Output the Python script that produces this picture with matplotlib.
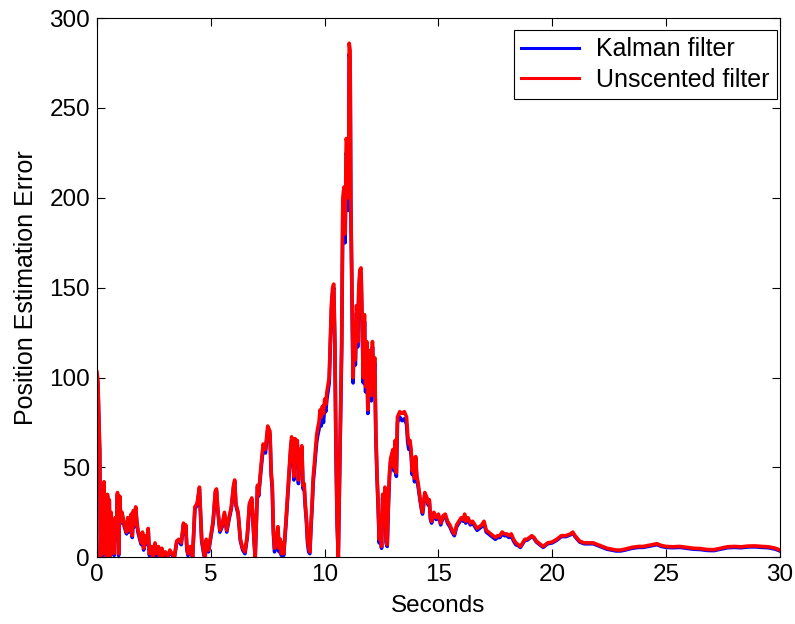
import matplotlib
matplotlib.use("Agg")
import matplotlib.pyplot as plt

plt.rcParams['font.family'] = ['Liberation Sans', 'DejaVu Sans']

# time (s) and position estimation error
t = [0.00, 0.04, 0.08, 0.12, 0.15, 0.18, 0.22, 0.25, 0.28, 0.31, 0.35, 0.38, 0.42, 0.46, 0.50,
     0.54, 0.58, 0.62, 0.66, 0.70, 0.75, 0.80, 0.85, 0.90, 0.95, 1.00, 1.05, 1.10, 1.20, 1.30,
     1.35, 1.40, 1.50, 1.55, 1.60, 1.65, 1.70, 1.75, 1.80, 1.90, 1.95, 2.00, 2.05, 2.10, 2.20,
     2.25, 2.30, 2.40, 2.45, 2.55, 2.60, 2.70, 2.75, 2.85, 2.90, 3.00, 3.10, 3.20, 3.30, 3.40,
     3.50, 3.60, 3.70, 3.80, 3.85, 3.90, 3.95, 4.00, 4.10, 4.20, 4.30, 4.40, 4.50, 4.55, 4.60,
     4.70, 4.75, 4.80, 4.90, 5.00, 5.10, 5.20, 5.25, 5.30, 5.40, 5.50, 5.60, 5.70, 5.80, 5.90,
     6.00, 6.05, 6.10, 6.20, 6.30, 6.40, 6.50, 6.60, 6.70, 6.80, 6.90, 6.95, 7.05, 7.10, 7.20,
     7.30, 7.40, 7.50, 7.60, 7.65, 7.70, 7.75, 7.80, 7.90, 7.95, 8.00, 8.05, 8.10, 8.15, 8.20,
     8.30, 8.40, 8.50, 8.55, 8.60, 8.65, 8.70, 8.75, 8.80, 8.85, 8.90, 8.95, 9.00, 9.05, 9.10,
     9.15, 9.20, 9.25, 9.30, 9.35, 9.40, 9.45, 9.50, 9.55, 9.60, 9.65, 9.70, 9.75, 9.80, 9.85,
     9.90, 9.95, 10.00, 10.05, 10.10, 10.20, 10.25, 10.30, 10.35, 10.40, 10.45, 10.50, 10.55, 10.60, 10.65,
     10.70, 10.75, 10.80, 10.85, 10.90, 10.95, 11.00, 11.05, 11.08, 11.12, 11.15, 11.20, 11.25, 11.30, 11.35,
     11.40, 11.45, 11.50, 11.55, 11.60, 11.65, 11.70, 11.75, 11.80, 11.85, 11.90, 11.95, 12.00, 12.05, 12.10,
     12.15, 12.20, 12.25, 12.30, 12.35, 12.40, 12.45, 12.50, 12.55, 12.60, 12.65, 12.70, 12.75, 12.80, 12.85,
     12.90, 13.00, 13.05, 13.10, 13.15, 13.20, 13.30, 13.40, 13.50, 13.60, 13.65, 13.70, 13.75, 13.80, 13.85,
     13.90, 13.95, 14.00, 14.05, 14.10, 14.20, 14.25, 14.30, 14.35, 14.40, 14.50, 14.55, 14.60, 14.65, 14.70,
     14.80, 14.90, 15.00, 15.10, 15.20, 15.30, 15.40, 15.50, 15.60, 15.70, 15.80, 15.90, 16.00, 16.10, 16.15,
     16.20, 16.30, 16.40, 16.50, 16.60, 16.70, 16.80, 16.90, 17.00, 17.10, 17.20, 17.30, 17.40, 17.50, 17.60,
     17.70, 17.80, 17.90, 18.00, 18.10, 18.20, 18.30, 18.40, 18.50, 18.60, 18.70, 18.80, 18.90, 19.00, 19.10,
     19.20, 19.30, 19.40, 19.50, 19.60, 19.70, 19.80, 20.00, 20.20, 20.40, 20.60, 20.80, 20.90, 21.00, 21.20,
     21.40, 21.60, 21.80, 22.00, 22.20, 22.40, 22.60, 22.80, 23.00, 23.20, 23.50, 23.80, 24.00, 24.20, 24.40,
     24.60, 24.80, 25.00, 25.30, 25.60, 25.90, 26.20, 26.50, 26.80, 27.10, 27.40, 27.70, 28.00, 28.30, 28.60,
     28.90, 29.20, 29.50, 29.80, 30.00]

unscented = [103, 98, 80, 60, 0, 20, 35, 2, 30, 42, 5, 28, 0, 35, 8,
             32, 0, 25, 15, 20, 2, 22, 15, 36, 2, 34, 20, 25, 18, 14,
             22, 15, 24, 12, 26, 18, 28, 20, 15, 10, 8, 14, 5, 12, 8,
             16, 2, 6, 0, 8, 2, 6, 0, 5, 1, 3, 0, 4, 2, 0,
             9, 10, 8, 19, 14, 18, 5, 2, 6, 0, 28, 30, 39, 25, 10,
             2, 0, 10, 4, 12, 20, 37, 38, 28, 15, 18, 25, 15, 22, 28,
             40, 43, 30, 25, 10, 5, 3, 12, 30, 33, 10, 0, 40, 35, 50,
             63, 60, 73, 70, 48, 40, 15, 5, 12, 17, 5, 10, 2, 8, 2,
             20, 40, 60, 67, 62, 45, 66, 58, 65, 43, 60, 55, 62, 40, 41,
             30, 22, 10, 5, 3, 18, 30, 45, 52, 60, 68, 72, 75, 82, 78,
             84, 80, 88, 85, 92, 100, 120, 141, 150, 152, 120, 60, 20, 0, 40,
             80, 120, 200, 206, 180, 233, 230, 200, 286, 282, 200, 150, 100, 130, 110,
             140, 120, 150, 160, 161, 130, 100, 135, 95, 120, 82, 115, 110, 90, 120,
             100, 111, 70, 47, 30, 10, 20, 6, 35, 25, 39, 10, 7, 30, 47,
             55, 60, 50, 65, 47, 78, 81, 80, 81, 78, 68, 63, 65, 60, 48,
             55, 44, 56, 45, 42, 32, 28, 25, 30, 36, 33, 30, 32, 22, 20,
             25, 22, 24, 19, 23, 24, 20, 18, 15, 13, 18, 20, 22, 21, 24,
             20, 22, 19, 20, 18, 16, 17, 18, 20, 15, 14, 13, 12, 11, 12,
             12, 14, 13, 13, 12, 13, 10, 8, 7, 6, 8, 10, 10, 11, 12,
             11, 9, 8, 7, 6, 7, 8, 8.5, 10, 12, 12, 13, 14, 12, 9,
             8, 8, 8, 7, 6, 5, 4.5, 4, 4, 4.5, 5.5, 6, 6, 6.5, 7,
             7.5, 6.5, 6, 5.8, 6, 5.5, 5, 4.8, 4.3, 4.2, 5, 5.8, 6, 5.8, 6.2,
             6.3, 6, 5.8, 5, 4]

kalman = [101, 96, 78, 58, 0, 19, 34, 1, 29, 41, 4, 27, 0, 34, 7,
          31, 0, 24, 14, 19, 1, 21, 14, 35, 1, 33, 19, 24, 17, 13,
          21, 14, 23, 11, 25, 17, 27, 19, 14, 9, 7, 13, 4, 11, 7,
          15, 1, 5, 0, 7, 1, 5, 0, 4, 0, 2, 0, 3, 1, 0,
          8, 9, 7, 18, 13, 17, 4, 1, 5, 0, 27, 29, 38, 24, 9,
          1, 0, 9, 3, 11, 19, 36, 37, 27, 14, 17, 24, 14, 21, 27,
          39, 42, 29, 24, 9, 4, 2, 11, 29, 32, 9, 0, 39, 34, 48,
          61, 58, 71, 68, 46, 38, 13, 3, 10, 15, 3, 8, 1, 6, 1,
          18, 38, 58, 65, 60, 43, 64, 56, 63, 41, 58, 53, 60, 38, 39,
          28, 20, 8, 3, 2, 16, 28, 42, 49, 57, 64, 68, 71, 77, 73,
          79, 75, 84, 81, 88, 97, 117, 138, 147, 150, 117, 57, 18, 0, 38,
          77, 117, 195, 198, 175, 225, 222, 193, 280, 276, 195, 146, 97, 126, 107,
          136, 117, 147, 157, 158, 127, 97, 131, 92, 117, 80, 112, 107, 87, 117,
          97, 108, 67, 45, 28, 8, 18, 5, 33, 23, 37, 8, 6, 28, 45,
          53, 58, 48, 62, 45, 75, 78, 76, 77, 74, 64, 60, 62, 57, 46,
          53, 42, 54, 43, 40, 31, 27, 24, 29, 35, 32, 29, 31, 21, 19,
          24, 21, 23, 18, 22, 23, 19, 17, 14, 12, 17, 19, 21, 20, 23,
          19, 21, 18, 19, 17, 15, 16, 17, 19, 14, 13, 12, 11, 10, 11,
          11, 13, 12, 12, 11, 12, 9, 7, 6.5, 5.5, 7.5, 9.5, 9.5, 10.5, 11.5,
          10.5, 8.5, 7.5, 6.5, 5.5, 6.5, 7.5, 8, 9.5, 11.5, 11.5, 12.5, 13.5, 11.5, 8.5,
          7.5, 7.5, 7.5, 6.5, 5.5, 4.5, 4, 3.5, 3.5, 4, 5, 5.5, 5.5, 6, 6.5,
          7, 6, 5.5, 5.3, 5.5, 5, 4.5, 4.3, 3.8, 3.7, 4.5, 5.3, 5.5, 5.3, 5.7,
          5.8, 5.5, 5.3, 4.5, 3.5]

fig = plt.figure(figsize=(7.95, 6.24), dpi=100)
ax = fig.add_axes([0.122, 0.107, 0.859, 0.864])

ax.plot(t, kalman, color='#0000ff', lw=2.6, label='Kalman filter')
ax.plot(t, unscented, color='#ff0000', lw=2.6, label='Unscented filter')

ax.set_xlim(0, 30)
ax.set_ylim(0, 300)
ax.set_xticks([0, 5, 10, 15, 20, 25, 30])
ax.set_yticks([0, 50, 100, 150, 200, 250, 300])
ax.tick_params(direction='in', top=True, right=True, length=6, width=0.8,
               labelsize=17.5, pad=5)
ax.set_xlabel('Seconds', fontsize=17.5, labelpad=6)
ax.set_ylabel('Position Estimation Error', fontsize=18, labelpad=8)
for s in ax.spines.values():
    s.set_linewidth(0.8)

leg = ax.legend(loc='upper right', bbox_to_anchor=(0.996, 0.978), borderaxespad=0,
                fontsize=18, fancybox=False, framealpha=1, edgecolor='black',
                handlelength=2.3, handletextpad=0.7, borderpad=0.3, labelspacing=0.25)
leg.get_frame().set_linewidth(0.8)
for h in leg.get_lines():
    h.set_linewidth(2.2)

fig.savefig('out.png', dpi=100)
